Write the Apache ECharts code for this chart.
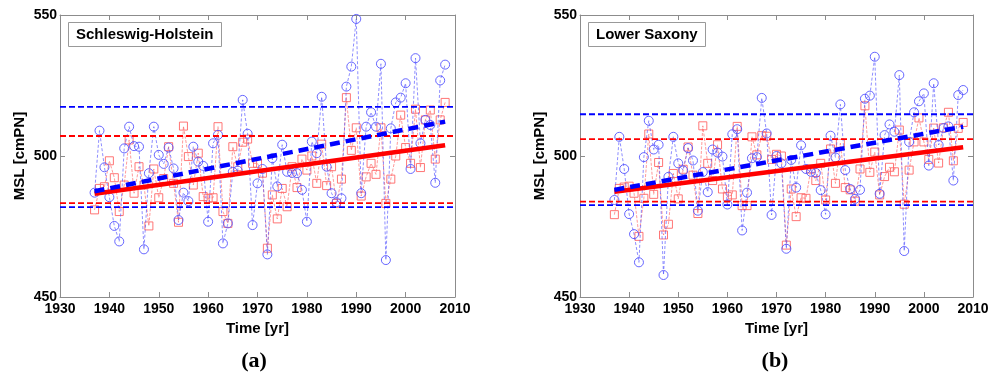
<!DOCTYPE html>
<html><head><meta charset="utf-8">
<script src="https://cdn.jsdelivr.net/npm/echarts@6/dist/echarts.min.js"></script>
<style>html,body{margin:0;padding:0;background:#fff}#c{width:1000px;height:383px}</style>
</head><body><div id="c"></div>
<script>
const years = [1937,1938,1939,1940,1941,1942,1943,1944,1945,1946,1947,1948,1949,1950,1951,1952,1953,1954,1955,1956,1957,1958,1959,1960,1961,1962,1963,1964,1965,1966,1967,1968,1969,1970,1971,1972,1973,1974,1975,1976,1977,1978,1979,1980,1981,1982,1983,1984,1985,1986,1987,1988,1989,1990,1991,1992,1993,1994,1995,1996,1997,1998,1999,2000,2001,2002,2003,2004,2005,2006,2007,2008];
const xTicks = [1930,1940,1950,1960,1970,1980,1990,2000,2010];
const yTicks = [450,500,550];

// Panel (a) Schleswig-Holstein
const shBlue = [487.0,509.0,496.0,485.4,475.2,469.7,502.7,510.4,503.5,503.3,466.9,493.9,510.4,500.4,497.2,503.0,495.6,477.3,487.0,484.0,503.3,498.0,496.5,476.7,504.5,507.5,469.0,476.1,494.4,494.8,519.9,507.9,475.5,490.3,495.4,465.1,499.2,489.2,504.0,494.4,494.0,493.9,488.0,476.7,505.1,501.0,521.0,496.2,486.8,483.6,485.0,524.6,531.7,548.6,486.8,510.4,515.5,510.4,532.7,463.1,509.8,519.0,520.7,525.8,495.4,534.7,504.5,512.8,511.0,490.5,526.8,532.4];
const shRed = [480.9,488.5,489.1,498.3,492.3,480.3,489.7,505.7,486.8,496.2,489.7,475.2,495.4,485.2,492.0,503.3,490.3,476.5,510.6,499.8,489.7,501.0,485.6,485.0,485.2,510.4,480.3,476.1,503.3,496.2,504.9,506.0,497.4,497.4,493.9,467.3,486.2,477.7,488.5,482.0,496.2,488.8,498.9,495.0,500.0,490.3,504.2,489.5,496.2,483.2,491.8,520.7,502.0,510.0,485.8,492.6,497.4,493.5,510.0,483.2,491.8,500.0,514.5,503.0,497.4,516.6,495.9,512.8,516.3,498.9,512.8,519.0];
const shBlueTrend = [487.5, 512.2];
const shRedTrend = [486.6, 503.8];
const shBlueLimits = [517.4, 481.9];
const shRedLimits = [507.1, 483.3];

// Panel (b) Lower Saxony
const lsBlue = [484.4,506.8,495.4,479.4,472.3,462.3,499.6,512.5,502.3,504.0,457.8,492.6,506.8,497.4,494.9,502.8,498.4,480.6,494.3,487.2,502.3,501.2,499.8,482.8,507.7,509.5,473.6,487.0,499.2,499.6,520.6,508.0,479.1,500.0,497.4,467.1,498.6,488.8,503.8,495.4,494.4,494.0,487.9,479.3,507.2,499.5,518.3,495.0,488.3,484.8,488.0,520.3,521.4,535.2,486.6,507.4,511.2,508.6,528.7,466.3,505.0,515.5,519.4,522.2,496.6,525.8,503.9,509.9,510.5,491.3,521.6,523.4];
const lsRed = [479.2,488.5,489.0,489.3,486.8,471.5,485.0,507.8,486.4,497.7,472.0,475.8,493.8,484.8,495.3,503.2,493.2,479.6,510.7,497.4,491.3,504.0,488.3,485.6,486.2,510.5,482.4,482.4,506.8,500.4,507.2,507.0,498.8,500.6,500.0,468.4,488.3,478.5,485.2,485.0,495.4,491.3,497.4,484.4,502.5,490.3,504.5,488.8,488.0,484.0,495.4,517.8,494.2,501.4,486.2,492.7,496.0,494.4,509.2,482.9,495.0,505.0,513.5,505.0,498.8,509.9,497.5,510.0,515.5,498.3,509.8,511.9];
const lsBlueTrend = [488.0, 510.4];
const lsRedTrend = [487.3, 503.1];
const lsBlueLimits = [514.8, 482.6];
const lsRedLimits = [506.0, 483.8];

const panelTitles = ['Schleswig-Holstein', 'Lower Saxony'];
const panelLetters = ['(a)', '(b)'];
const xName = 'Time [yr]';
const yName = 'MSL [cmPN]';

const BLUE = '#0000ff', RED = '#ff0000';
const FONT = 'Liberation Sans, Arial, sans-serif';

const grids = [
  {left: 60, right: 545, top: 15, bottom: 86},
  {left: 580, right: 27, top: 15, bottom: 86}
];

const xAxes = [], yAxes = [], series = [];
const panels = [
  {blue: shBlue, red: shRed, bt: shBlueTrend, rt: shRedTrend, bl: shBlueLimits, rl: shRedLimits},
  {blue: lsBlue, red: lsRed, bt: lsBlueTrend, rt: lsRedTrend, bl: lsBlueLimits, rl: lsRedLimits}
];

panels.forEach((p, i) => {
  const axisLine = {show: true, lineStyle: {color: '#8c8c8c', width: 1}};
  xAxes.push({
    type: 'value', gridIndex: i, min: xTicks[0], max: xTicks[xTicks.length-1], interval: 10,
    axisLine: axisLine, axisTick: {show: true, inside: true, length: 5, lineStyle: {color: '#8c8c8c'}},
    axisLabel: {color: '#000', fontWeight: 'bold', fontSize: 14, fontFamily: FONT, margin: 5, formatter: v => String(v)},
    splitLine: {show: false},
    name: xName, nameLocation: 'middle', nameGap: 20,
    nameTextStyle: {color: '#000', fontWeight: 'bold', fontSize: 15, fontFamily: FONT}
  });
  xAxes.push({
    type: 'value', gridIndex: i, position: 'top', min: xTicks[0], max: xTicks[xTicks.length-1], interval: 10,
    axisLine: axisLine, axisTick: {show: true, inside: true, length: 5, lineStyle: {color: '#8c8c8c'}},
    axisLabel: {show: false}, splitLine: {show: false}
  });
  yAxes.push({
    type: 'value', gridIndex: i, min: yTicks[0], max: yTicks[yTicks.length-1], interval: 50,
    axisLine: axisLine, axisTick: {show: true, inside: true, length: 5, lineStyle: {color: '#8c8c8c'}},
    axisLabel: {color: '#000', fontWeight: 'bold', fontSize: 14, fontFamily: FONT, margin: 3, formatter: v => String(v)},
    splitLine: {show: false},
    name: yName, nameLocation: 'middle', nameGap: 33, nameRotate: 90,
    nameTextStyle: {color: '#000', fontWeight: 'bold', fontSize: 15, fontFamily: FONT}
  });
  yAxes.push({
    type: 'value', gridIndex: i, position: 'right', min: yTicks[0], max: yTicks[yTicks.length-1], interval: 50,
    axisLine: axisLine, axisTick: {show: true, inside: true, length: 5, lineStyle: {color: '#8c8c8c'}},
    axisLabel: {show: false}, splitLine: {show: false}
  });
  const xi = i * 2, yi = i * 2;
  const x0 = years[0], x1 = years[years.length-1];
  series.push({
    type: 'line', xAxisIndex: xi, yAxisIndex: yi, z: 2,
    data: years.map((y, k) => [y, p.red[k]]),
    symbol: 'rect', symbolSize: 8, showSymbol: true,
    lineStyle: {color: '#ff5555', width: 0.8, type: [3, 1.5], opacity: 0.75},
    itemStyle: {color: 'rgba(255,255,255,0)', borderColor: '#ff6666', borderWidth: 0.9},
    emphasis: {disabled: true}, animation: false
  });
  series.push({
    type: 'line', xAxisIndex: xi, yAxisIndex: yi, z: 3,
    data: years.map((y, k) => [y, p.blue[k]]),
    symbol: 'circle', symbolSize: 9, showSymbol: true,
    lineStyle: {color: '#4b4bff', width: 0.8, type: [3, 2], opacity: 0.8},
    itemStyle: {color: 'rgba(255,255,255,0)', borderColor: '#5555ff', borderWidth: 0.9},
    emphasis: {disabled: true}, animation: false
  });
  [[p.bl, BLUE], [p.rl, RED]].forEach(([lims, col]) => {
    lims.forEach(v => {
      series.push({
        type: 'line', xAxisIndex: xi, yAxisIndex: yi, z: 4,
        data: [[xTicks[0], v], [xTicks[xTicks.length-1], v]],
        symbol: 'none', lineStyle: {color: col, width: 1.8, type: [6, 3]},
        emphasis: {disabled: true}, animation: false
      });
    });
  });
  series.push({
    type: 'line', xAxisIndex: xi, yAxisIndex: yi, z: 5,
    data: [[x0, p.rt[0]], [x1, p.rt[1]]], symbol: 'none',
    lineStyle: {color: RED, width: 4.5}, emphasis: {disabled: true}, animation: false
  });
  series.push({
    type: 'line', xAxisIndex: xi, yAxisIndex: yi, z: 6,
    data: [[x0, p.bt[0]], [x1, p.bt[1]]], symbol: 'none',
    lineStyle: {color: BLUE, width: 4.5, type: [10, 6]}, emphasis: {disabled: true}, animation: false
  });
});

const titleBox = (text, left) => ({
  text: text, left: left, top: 22,
  textStyle: {color: '#000', fontWeight: 'bold', fontSize: 15, fontFamily: FONT, lineHeight: 18},
  padding: [4, 8, 3, 8], borderColor: '#999', borderWidth: 1, backgroundColor: '#fff'
});
const letter = (text, cx) => ({
  text: text, left: cx, top: 345, textAlign: 'center',
  textStyle: {color: '#000', fontWeight: 'bold', fontSize: 22, fontFamily: 'Liberation Serif, Times New Roman, serif'}
});

const chart = echarts.init(document.getElementById('c'), null, {renderer: 'canvas'});
chart.setOption({
  animation: false,
  backgroundColor: '#fff',
  title: [titleBox(panelTitles[0], 68), titleBox(panelTitles[1], 588), letter(panelLetters[0], 249), letter(panelLetters[1], 770)],
  grid: grids,
  xAxis: xAxes,
  yAxis: yAxes,
  series: series
});
</script>
</body></html>
